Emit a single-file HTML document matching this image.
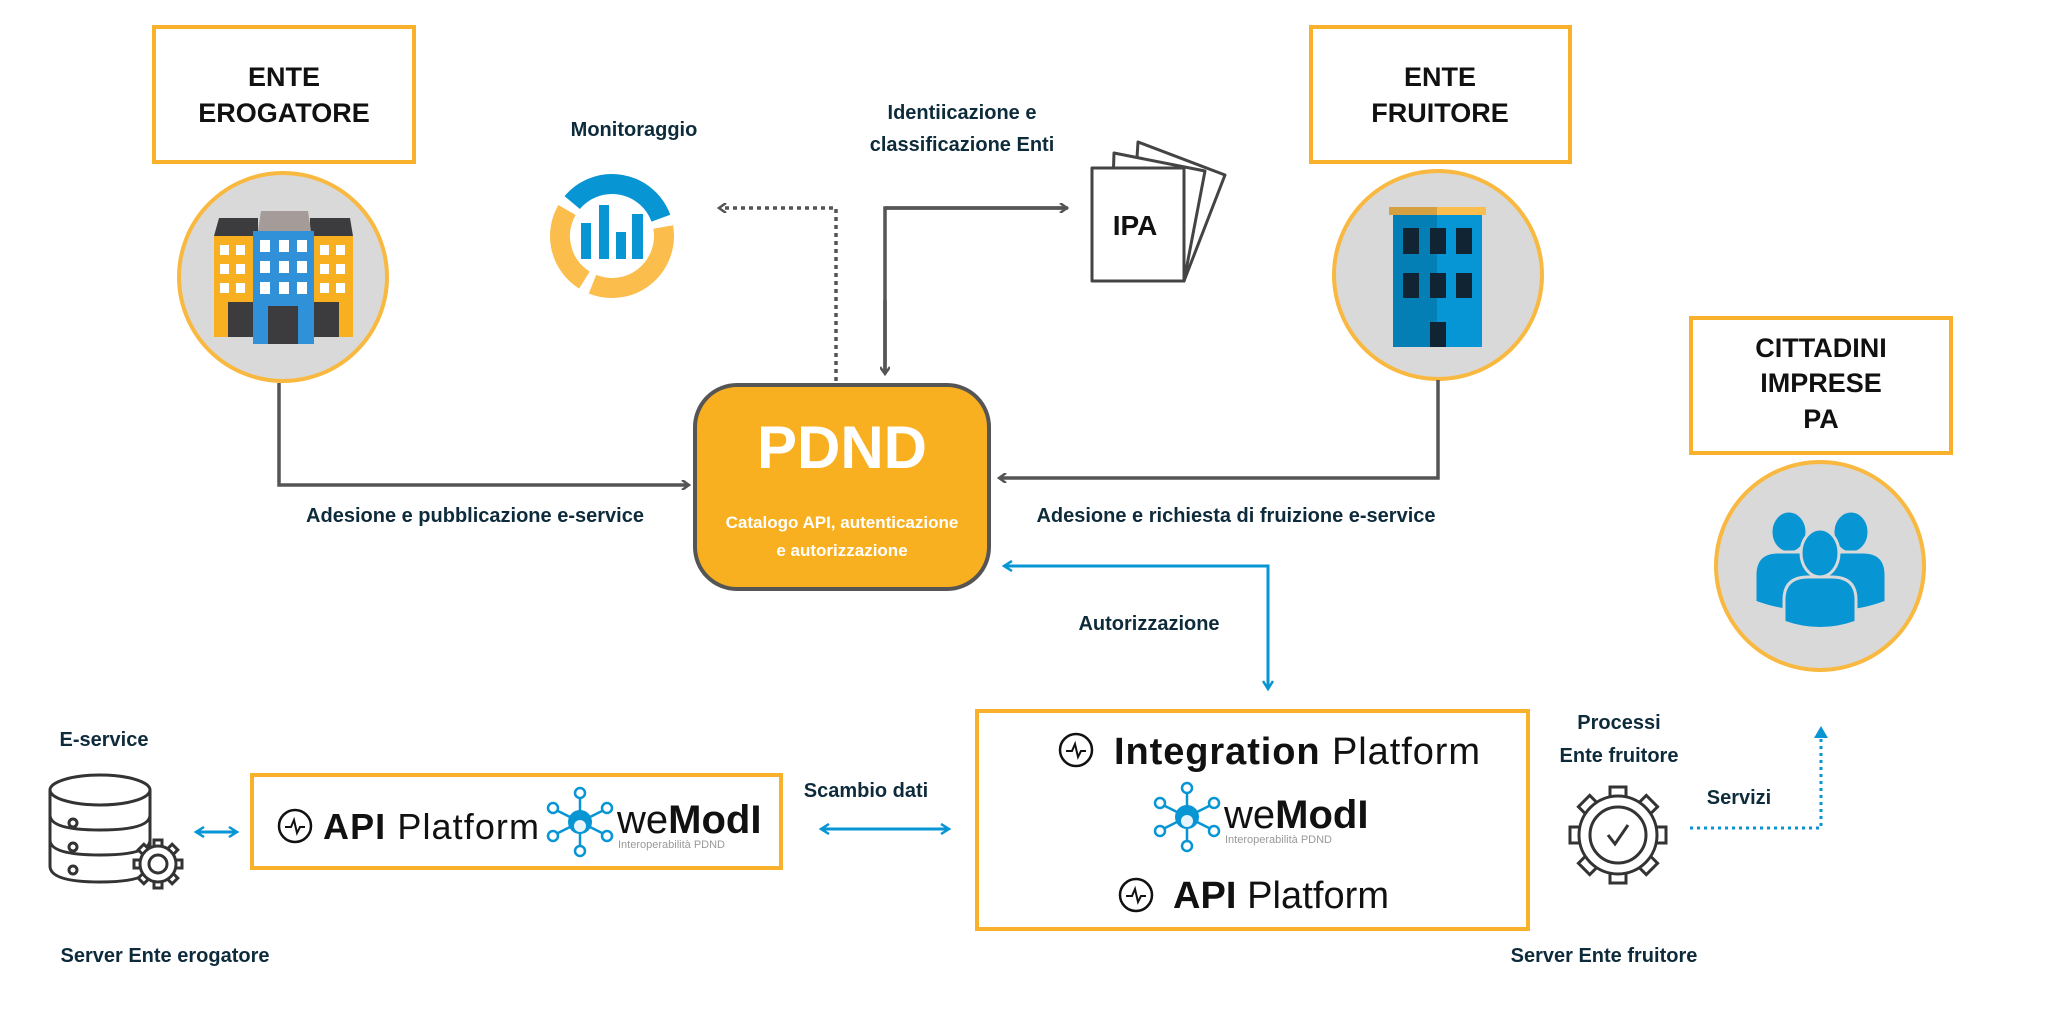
<!DOCTYPE html>
<html><head><meta charset="utf-8"><style>
html,body{margin:0;padding:0;background:#fff;}
svg{display:block;}
text{font-family:"Liberation Sans",sans-serif;}
.lbl{font-weight:bold;font-size:20px;fill:#0e2b3b;}
.hdr{font-weight:bold;font-size:27px;fill:#111;}
</style></head><body>
<svg width="2048" height="1024" viewBox="0 0 2048 1024" xmlns="http://www.w3.org/2000/svg">
<defs>
<marker id="ag" markerWidth="10" markerHeight="10" refX="7" refY="5" orient="auto" markerUnits="userSpaceOnUse"><path d="M1,0 L8,5 L1,10" fill="none" stroke="#555" stroke-width="2.5"/></marker>
<marker id="ab" markerWidth="12" markerHeight="12" refX="8" refY="6" orient="auto-start-reverse" markerUnits="userSpaceOnUse"><path d="M1,1 L9,6 L1,11" fill="none" stroke="#0795d4" stroke-width="2.5"/></marker>
<marker id="abf" markerWidth="14" markerHeight="14" refX="10" refY="7" orient="auto" markerUnits="userSpaceOnUse"><path d="M0,0 L12,7 L0,14 Z" fill="#0795d4"/></marker>
<g id="logo">
 <g stroke="#0795d4" stroke-width="2.5" fill="#fff">
  <line x1="0" y1="0" x2="0" y2="-26"/><line x1="0" y1="0" x2="0" y2="26"/>
  <line x1="0" y1="0" x2="-24" y2="-12"/><line x1="0" y1="0" x2="24" y2="-12"/>
  <line x1="0" y1="0" x2="-24" y2="12"/><line x1="0" y1="0" x2="24" y2="12"/>
  <circle cx="0" cy="-29" r="5"/><circle cx="0" cy="29" r="5"/>
  <circle cx="-27" cy="-14" r="5"/><circle cx="27" cy="-14" r="5"/>
  <circle cx="-27" cy="14" r="5"/><circle cx="27" cy="14" r="5"/>
 </g>
 <circle cx="0" cy="0" r="12" fill="#0795d4"/>
 <circle cx="0" cy="4" r="6" fill="#e8f4fb"/>
 <text x="37" y="11" font-size="40" fill="#111"><tspan font-weight="normal">we</tspan><tspan font-weight="bold">ModI</tspan></text>
 <text x="38" y="26" font-size="11" fill="#999">Interoperabilità PDND</text>
</g>
<g id="pulse">
 <circle cx="0" cy="0" r="16" fill="none" stroke="#111" stroke-width="2.5"/>
 <polyline points="-10,1 -4,1 -1,-6 2,7 5,1 10,1" fill="none" stroke="#111" stroke-width="2"/>
</g>
</defs>

<rect x="154" y="27" width="260" height="135" fill="#fff" stroke="#f9b02a" stroke-width="4"/>
<text class="hdr" x="284" y="86" text-anchor="middle">ENTE</text>
<text class="hdr" x="284" y="122" text-anchor="middle">EROGATORE</text>
<circle cx="283" cy="277" r="104" fill="#d9d9d9" stroke="#f9b940" stroke-width="4"/>
<polygon points="219,218 258,218 258,236 214,236" fill="#3c3c3e"/>
<polygon points="310,218 350,218 353,236 310,236" fill="#3c3c3e"/>
<polygon points="261,211 308,211 311,231 258,231" fill="#a59c99"/>
<rect x="214" y="236" width="41" height="101" fill="#f8b020"/>
<rect x="314" y="236" width="39" height="101" fill="#f8b020"/>
<rect x="253" y="231" width="61" height="113" fill="#3090d8"/>
<g fill="#fff">
<rect x="220" y="245" width="9" height="10"/><rect x="236" y="245" width="9" height="10"/>
<rect x="220" y="264" width="9" height="10"/><rect x="236" y="264" width="9" height="10"/>
<rect x="220" y="283" width="9" height="10"/><rect x="236" y="283" width="9" height="10"/>
<rect x="320" y="245" width="9" height="10"/><rect x="336" y="245" width="9" height="10"/>
<rect x="320" y="264" width="9" height="10"/><rect x="336" y="264" width="9" height="10"/>
<rect x="320" y="283" width="9" height="10"/><rect x="336" y="283" width="9" height="10"/>
<rect x="260" y="240" width="10" height="12"/><rect x="279" y="240" width="10" height="12"/><rect x="297" y="240" width="10" height="12"/>
<rect x="260" y="261" width="10" height="12"/><rect x="279" y="261" width="10" height="12"/><rect x="297" y="261" width="10" height="12"/>
<rect x="260" y="282" width="10" height="12"/><rect x="279" y="282" width="10" height="12"/><rect x="297" y="282" width="10" height="12"/>
</g>
<rect x="228" y="302" width="25" height="35" fill="#3c3c3e"/>
<rect x="314" y="302" width="25" height="35" fill="#3c3c3e"/>
<rect x="268" y="306" width="30" height="38" fill="#3c3c3e"/>

<text class="lbl" x="634" y="136" text-anchor="middle">Monitoraggio</text>
<g fill="none" stroke-width="20">
<path d="M572.2,202.6 A52,52 0 0 1 660.9,218.2" stroke="#0795d4"/>
<path d="M663.2,227 A52,52 0 0 1 592.5,284.2" stroke="#fbbd4c"/>
<path d="M584.4,280.1 A52,52 0 0 1 567,210" stroke="#fbbd4c"/>
</g>
<g fill="#0795d4">
<rect x="581" y="223" width="10" height="36"/><rect x="599" y="205" width="10" height="54"/>
<rect x="616" y="232" width="10" height="27"/><rect x="632" y="214" width="11" height="45"/>
</g>

<text class="lbl" x="962" y="119" text-anchor="middle">Identiicazione e</text>
<text class="lbl" x="962" y="151" text-anchor="middle">classificazione Enti</text>
<g fill="#fff" stroke="#444" stroke-width="3" stroke-linejoin="round">
<polygon points="1138,142 1225,175 1184,281 1130,268"/>
<polygon points="1114,153 1205,171 1184,281 1110,275"/>
<rect x="1092" y="168" width="92" height="113"/>
</g>
<text x="1135" y="235" text-anchor="middle" font-size="28" font-weight="bold" fill="#111">IPA</text>

<rect x="1311" y="27" width="259" height="135" fill="#fff" stroke="#f9b02a" stroke-width="4"/>
<text class="hdr" x="1440" y="86" text-anchor="middle">ENTE</text>
<text class="hdr" x="1440" y="122" text-anchor="middle">FRUITORE</text>
<circle cx="1438" cy="275" r="104" fill="#d9d9d9" stroke="#f9b940" stroke-width="4"/>
<rect x="1389" y="207" width="48" height="8" fill="#d4a040"/>
<rect x="1437" y="207" width="49" height="8" fill="#fbbd4c"/>
<rect x="1393" y="215" width="44" height="132" fill="#037fb5"/>
<rect x="1437" y="215" width="45" height="132" fill="#0796d5"/>
<g fill="#102433">
<rect x="1403" y="228" width="16" height="26"/><rect x="1430" y="228" width="16" height="26"/><rect x="1456" y="228" width="16" height="26"/>
<rect x="1403" y="273" width="16" height="25"/><rect x="1430" y="273" width="16" height="25"/><rect x="1456" y="273" width="16" height="25"/>
<rect x="1430" y="322" width="16" height="25"/>
</g>

<rect x="1691" y="318" width="260" height="135" fill="#fff" stroke="#f9b02a" stroke-width="4"/>
<text class="hdr" x="1821" y="357" text-anchor="middle">CITTADINI</text>
<text class="hdr" x="1821" y="392" text-anchor="middle">IMPRESE</text>
<text class="hdr" x="1821" y="428" text-anchor="middle">PA</text>
<circle cx="1820" cy="566" r="104" fill="#d9d9d9" stroke="#f9b940" stroke-width="4"/>
<g fill="#0795d4" stroke="#d9d9d9" stroke-width="3">
<ellipse cx="1789" cy="532" rx="18" ry="21"/>
<ellipse cx="1851" cy="532" rx="18" ry="21"/>
<path d="M1755,602 L1755,575 Q1755,552 1778,552 L1800,552 Q1820,552 1820,575 L1820,610 Q1790,615 1755,602Z"/>
<path d="M1820,610 L1820,575 Q1820,552 1842,552 L1863,552 Q1886,552 1886,575 L1886,602 Q1852,615 1820,610Z"/>
<ellipse cx="1820" cy="553" rx="19" ry="24"/>
<path d="M1784,622 L1784,600 Q1784,577 1808,577 L1832,577 Q1856,577 1856,600 L1856,622 Q1820,635 1784,622Z"/>
</g>

<path d="M836,381 L836,208 L720,208" fill="none" stroke="#555" stroke-width="3.5" stroke-dasharray="4,4" marker-end="url(#ag)"/>
<path d="M1068,208 L885,208 L885,373" fill="none" stroke="#555" stroke-width="3.5"/>
<path d="M885,208 L1066,208" fill="none" stroke="#555" stroke-width="3.5" marker-end="url(#ag)"/>
<path d="M885,300 L885,373" fill="none" stroke="#555" stroke-width="3.5" marker-end="url(#ag)"/>
<path d="M279,383 L279,485 L688,485" fill="none" stroke="#555" stroke-width="3.5" marker-end="url(#ag)"/>
<path d="M1438,380 L1438,478 L1000,478" fill="none" stroke="#555" stroke-width="3.5" marker-end="url(#ag)"/>
<path d="M1005,566 L1268,566 L1268,688" fill="none" stroke="#0795d4" stroke-width="3" marker-start="url(#ab)" marker-end="url(#ab)"/>

<rect x="695" y="385" width="294" height="204" rx="42" fill="#f8b020" stroke="#555" stroke-width="4"/>
<text x="842" y="468" text-anchor="middle" font-size="60" font-weight="bold" fill="#fff">PDND</text>
<text x="842" y="528" text-anchor="middle" font-size="17" font-weight="bold" fill="#fff">Catalogo API, autenticazione</text>
<text x="842" y="556" text-anchor="middle" font-size="17" font-weight="bold" fill="#fff">e autorizzazione</text>

<text class="lbl" x="475" y="522" text-anchor="middle">Adesione e pubblicazione e-service</text>
<text class="lbl" x="1236" y="522" text-anchor="middle">Adesione e richiesta di fruizione e-service</text>
<text class="lbl" x="1149" y="630" text-anchor="middle">Autorizzazione</text>

<rect x="977" y="711" width="551" height="218" fill="#fff" stroke="#f9b02a" stroke-width="4"/>
<use href="#pulse" x="1076" y="750"/>
<text x="1114" y="764" font-size="38" fill="#111" textLength="366"><tspan font-weight="bold">Integration</tspan> Platform</text>
<use href="#logo" x="1187" y="817"/>
<use href="#pulse" x="1136" y="895"/>
<text x="1173" y="908" font-size="38" fill="#111" textLength="216"><tspan font-weight="bold">API</tspan> Platform</text>

<rect x="252" y="775" width="529" height="93" fill="#fff" stroke="#f9b02a" stroke-width="4"/>
<use href="#pulse" x="295" y="826"/>
<text x="323" y="839" font-size="36" fill="#111" textLength="216"><tspan font-weight="bold">API</tspan> Platform</text>
<use href="#logo" x="580" y="822"/>

<text class="lbl" x="104" y="746" text-anchor="middle">E-service</text>
<g fill="#fff" stroke="#333" stroke-width="3">
<path d="M50,790 L50,866 Q50,882 100,882 Q150,882 150,866 L150,790"/>
<ellipse cx="100" cy="790" rx="50" ry="15"/>
<path d="M50,815 Q50,830 100,830 Q150,830 150,815"/>
<path d="M50,840 Q50,855 100,855 Q150,855 150,840"/>
<circle cx="73" cy="823" r="4"/><circle cx="73" cy="847" r="4"/><circle cx="73" cy="870" r="4"/>
</g>
<g stroke="#333" stroke-width="3" fill="#fff">
<g transform="translate(158,864)">
<rect x="-4" y="-24" width="8" height="48"/>
<rect x="-4" y="-24" width="8" height="48" transform="rotate(45)"/>
<rect x="-4" y="-24" width="8" height="48" transform="rotate(90)"/>
<rect x="-4" y="-24" width="8" height="48" transform="rotate(135)"/>
<circle r="18"/>
<circle r="9"/>
</g>
</g>
<line x1="197" y1="832" x2="236" y2="832" stroke="#0795d4" stroke-width="3" marker-start="url(#ab)" marker-end="url(#ab)"/>
<text class="lbl" x="165" y="962" text-anchor="middle">Server Ente erogatore</text>

<text class="lbl" x="866" y="797" text-anchor="middle">Scambio dati</text>
<line x1="822" y1="829" x2="948" y2="829" stroke="#0795d4" stroke-width="3" marker-start="url(#ab)" marker-end="url(#ab)"/>

<text class="lbl" x="1619" y="729" text-anchor="middle">Processi</text>
<text class="lbl" x="1619" y="762" text-anchor="middle">Ente fruitore</text>
<g transform="translate(1618,835)" stroke="#333" stroke-width="3" fill="#fff">
<rect x="-8" y="-48" width="16" height="96"/>
<rect x="-8" y="-48" width="16" height="96" transform="rotate(45)"/>
<rect x="-8" y="-48" width="16" height="96" transform="rotate(90)"/>
<rect x="-8" y="-48" width="16" height="96" transform="rotate(135)"/>
<circle r="39"/>
<circle r="28"/>
<polyline points="-10,0 -3,9 10,-10" fill="none"/>
</g>
<text class="lbl" x="1739" y="804" text-anchor="middle">Servizi</text>
<path d="M1690,828 L1821,828 L1821,728" fill="none" stroke="#0795d4" stroke-width="3" stroke-dasharray="3,4" marker-end="url(#abf)"/>
<text class="lbl" x="1604" y="962" text-anchor="middle">Server Ente fruitore</text>
</svg>
</body></html>
